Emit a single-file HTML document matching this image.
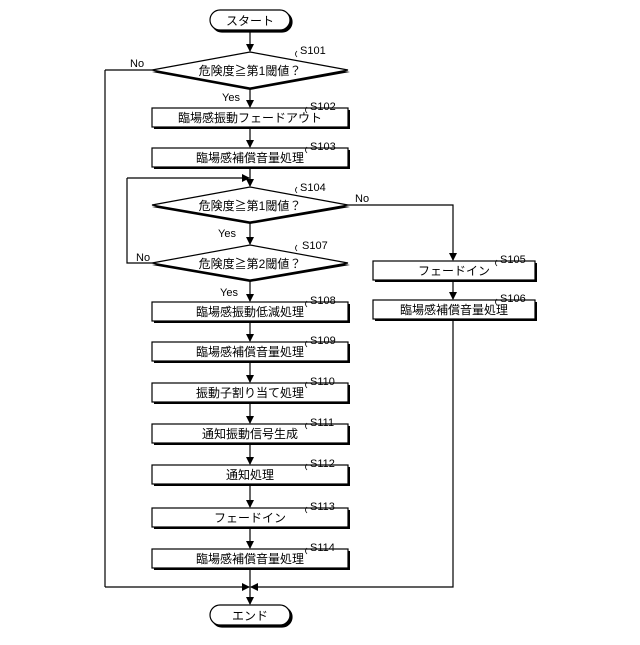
<!DOCTYPE html>
<html><head><meta charset="utf-8"><style>
html,body{margin:0;padding:0;background:#fff;}
svg text{font-family:"Liberation Sans","Noto Sans CJK JP",sans-serif;fill:#000;}
</style></head><body>
<svg width="640" height="640" viewBox="0 0 640 640" xmlns="http://www.w3.org/2000/svg">
<defs>
<marker id="a" markerWidth="8" markerHeight="8" refX="7" refY="4" orient="auto" markerUnits="userSpaceOnUse">
<path d="M0,0 L8,4 L0,8 Z" fill="#000"/></marker>
</defs>
<g stroke="#000" stroke-width="1.2" fill="none">
<!-- start -->
<rect x="212" y="12" width="80" height="20" rx="10" fill="#000"/>
<rect x="210" y="10" width="80" height="20" rx="10" fill="#fff"/>
<line x1="250" y1="30" x2="250" y2="51" marker-end="url(#a)"/>
<!-- S101 -->
<polygon points="250,54 350,72 250,90 152,72" fill="#000" stroke="none"/>
<polygon points="250,52 348,70 250,88 152,70" fill="#fff"/>
<line x1="250" y1="88" x2="250" y2="107" marker-end="url(#a)"/>
<line x1="152" y1="70" x2="105" y2="70"/>
<line x1="105" y1="70" x2="105" y2="587"/>
<!-- S102 -->
<rect x="154" y="110" width="196" height="19" fill="#000" stroke="none"/>
<rect x="152" y="108" width="196" height="19" fill="#fff"/>
<line x1="250" y1="127" x2="250" y2="147" marker-end="url(#a)"/>
<!-- S103 -->
<rect x="154" y="150" width="196" height="19" fill="#000" stroke="none"/>
<rect x="152" y="148" width="196" height="19" fill="#fff"/>
<line x1="250" y1="167" x2="250" y2="186" marker-end="url(#a)"/>
<line x1="127" y1="178" x2="249" y2="178" marker-end="url(#a)"/>
<!-- S104 -->
<polygon points="250,189 350,207 250,224 152,207" fill="#000" stroke="none"/>
<polygon points="250,187 348,205 250,222 152,205" fill="#fff"/>
<line x1="250" y1="222" x2="250" y2="244" marker-end="url(#a)"/>
<polyline points="348,205 453,205 453,260" marker-end="url(#a)"/>
<!-- S107 -->
<polygon points="250,247 350,265 250,282 152,265" fill="#000" stroke="none"/>
<polygon points="250,245 348,263 250,280 152,263" fill="#fff"/>
<polyline points="152,263 127,263 127,178"/>
<line x1="250" y1="280" x2="250" y2="301" marker-end="url(#a)"/>
<!-- main column boxes -->
<rect x="154" y="304" width="196" height="19" fill="#000" stroke="none"/>
<rect x="152" y="302" width="196" height="19" fill="#fff"/>
<line x1="250" y1="321" x2="250" y2="341" marker-end="url(#a)"/>
<rect x="154" y="344" width="196" height="19" fill="#000" stroke="none"/>
<rect x="152" y="342" width="196" height="19" fill="#fff"/>
<line x1="250" y1="361" x2="250" y2="382" marker-end="url(#a)"/>
<rect x="154" y="385" width="196" height="19" fill="#000" stroke="none"/>
<rect x="152" y="383" width="196" height="19" fill="#fff"/>
<line x1="250" y1="402" x2="250" y2="423" marker-end="url(#a)"/>
<rect x="154" y="426" width="196" height="19" fill="#000" stroke="none"/>
<rect x="152" y="424" width="196" height="19" fill="#fff"/>
<line x1="250" y1="443" x2="250" y2="464" marker-end="url(#a)"/>
<rect x="154" y="467" width="196" height="19" fill="#000" stroke="none"/>
<rect x="152" y="465" width="196" height="19" fill="#fff"/>
<line x1="250" y1="484" x2="250" y2="507" marker-end="url(#a)"/>
<rect x="154" y="510" width="196" height="19" fill="#000" stroke="none"/>
<rect x="152" y="508" width="196" height="19" fill="#fff"/>
<line x1="250" y1="527" x2="250" y2="548" marker-end="url(#a)"/>
<rect x="154" y="551" width="196" height="19" fill="#000" stroke="none"/>
<rect x="152" y="549" width="196" height="19" fill="#fff"/>
<line x1="250" y1="568" x2="250" y2="604" marker-end="url(#a)"/>
<!-- right column -->
<rect x="375" y="263" width="162" height="19" fill="#000" stroke="none"/>
<rect x="373" y="261" width="162" height="19" fill="#fff"/>
<line x1="453" y1="280" x2="453" y2="299" marker-end="url(#a)"/>
<rect x="375" y="302" width="162" height="19" fill="#000" stroke="none"/>
<rect x="373" y="300" width="162" height="19" fill="#fff"/>
<polyline points="453,319 453,587 251,587" marker-end="url(#a)"/>
<line x1="105" y1="587" x2="249" y2="587" marker-end="url(#a)"/>
<!-- end -->
<rect x="212" y="607" width="80" height="20" rx="10" fill="#000"/>
<rect x="210" y="605" width="80" height="20" rx="10" fill="#fff"/>
<!-- step label ticks -->
<path d="M297,57 q-3,-3 0,-6 M307,113 q-3,-3 0,-6 M307,153 q-3,-3 0,-6 M297,193 q-3,-3 0,-6 M297,251 q-3,-3 0,-6 M307,307 q-3,-3 0,-6 M307,347 q-3,-3 0,-6 M307,388 q-3,-3 0,-6 M307,429 q-3,-3 0,-6 M307,470 q-3,-3 0,-6 M307,513 q-3,-3 0,-6 M307,554 q-3,-3 0,-6 M497,266 q-3,-3 0,-6 M497,305 q-3,-3 0,-6" stroke-width="0.8"/>
</g>
<g font-size="12" text-anchor="middle">
<text x="250" y="25">スタート</text>
<text x="250" y="620">エンド</text>
<text x="250" y="75">危険度≧第1閾値？</text>
<text x="250" y="122">臨場感振動フェードアウト</text>
<text x="250" y="162">臨場感補償音量処理</text>
<text x="250" y="210">危険度≧第1閾値？</text>
<text x="250" y="268">危険度≧第2閾値？</text>
<text x="250" y="316">臨場感振動低減処理</text>
<text x="250" y="356">臨場感補償音量処理</text>
<text x="250" y="397">振動子割り当て処理</text>
<text x="250" y="438">通知振動信号生成</text>
<text x="250" y="479">通知処理</text>
<text x="250" y="522">フェードイン</text>
<text x="250" y="563">臨場感補償音量処理</text>
<text x="454" y="275">フェードイン</text>
<text x="454" y="314">臨場感補償音量処理</text>
</g>
<g font-size="11">
<text x="300" y="54">S101</text>
<text x="310" y="110">S102</text>
<text x="310" y="150">S103</text>
<text x="300" y="191">S104</text>
<text x="302" y="249">S107</text>
<text x="310" y="304">S108</text>
<text x="310" y="344">S109</text>
<text x="310" y="385">S110</text>
<text x="310" y="426">S111</text>
<text x="310" y="467">S112</text>
<text x="310" y="510">S113</text>
<text x="310" y="551">S114</text>
<text x="500" y="263">S105</text>
<text x="500" y="302">S106</text>
<text x="222" y="101">Yes</text>
<text x="218" y="237">Yes</text>
<text x="220" y="296">Yes</text>
<text x="130" y="67">No</text>
<text x="355" y="202">No</text>
<text x="136" y="261">No</text>
</g>
</svg>
</body></html>
